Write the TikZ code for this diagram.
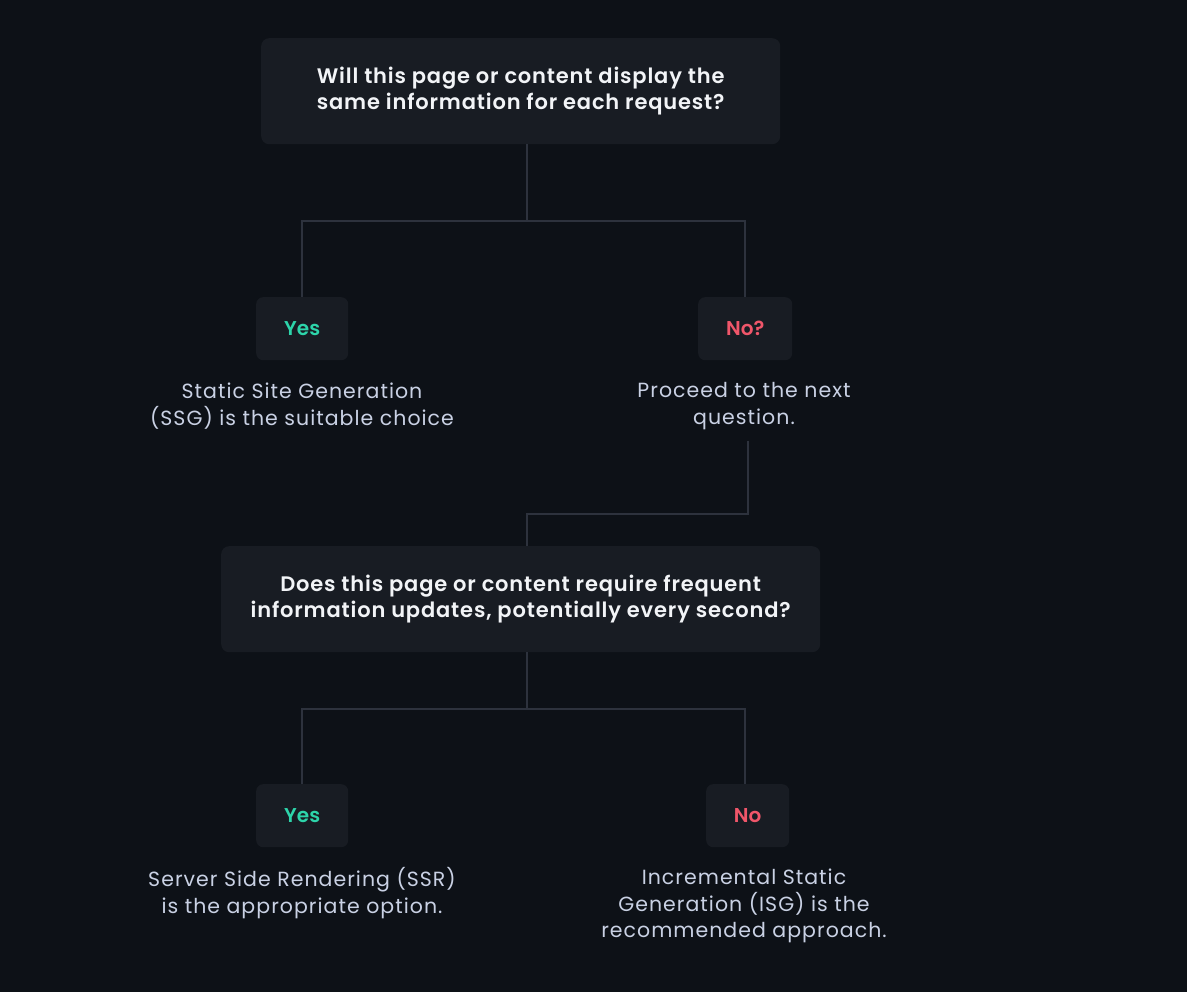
\documentclass[tikz,border=0pt]{standalone}
\usepackage{fontspec}
\setmainfont{Poppins}[BoldFont={Poppins SemiBold}]
\definecolor{bg}{HTML}{0D1117}
\definecolor{boxfill}{HTML}{181C23}
\definecolor{linec}{HTML}{2D323D}
\definecolor{titlec}{HTML}{F2F4F7}
\definecolor{bodyc}{HTML}{C9D1E4}
\definecolor{yesc}{HTML}{2DD4AA}
\definecolor{noc}{HTML}{F0566A}
\tikzset{
  qbox/.style={fill=boxfill, rounded corners=8pt, draw=none, align=center, font=\fontsize{21}{26}\selectfont\bfseries\addfontfeatures{LetterSpace=4}, text=titlec, anchor=north west, inner sep=0pt},
  abox/.style={fill=boxfill, rounded corners=7pt, draw=none, font=\fontsize{20}{26}\selectfont\bfseries, inner sep=0pt, anchor=north west},
  desc/.style={align=center, font=\fontsize{20.5}{26.5}\selectfont\addfontfeatures{LetterSpace=5}, text=bodyc, inner sep=0pt},
  conn/.style={draw=linec, line width=2pt}
}
\begin{document}
\begin{tikzpicture}[x=1pt,y=-1pt]
\fill[bg] (0,0) rectangle (1187,992);
\useasboundingbox (0,0) rectangle (1187,992);
% question 1
\node[qbox, minimum width=519pt, minimum height=106pt] (q1) at (261,38) {Will this page or content display the\\same information for each request?};
\node[abox, minimum width=92pt, minimum height=63pt, text=yesc] (y1) at (256,297) {Yes};
\node[abox, minimum width=94pt, minimum height=63pt, text=noc] (n1) at (698,297) {No?};
\node[desc] (y1t) at (302,406) {Static Site Generation\\(SSG) is the suitable choice};
\node[desc, inner ysep=11pt] (n1t) at (744,406) {Proceed to the next\\question.};
% question 2
\node[qbox, minimum width=599pt, minimum height=106pt] (q2) at (221,546) {Does this page or content require frequent\\information updates, potentially every second?};
\node[abox, minimum width=92pt, minimum height=63pt, text=yesc] (y2) at (256,784) {Yes};
\node[abox, minimum width=83pt, minimum height=63pt, text=noc] (n2) at (706,784) {No};
\node[desc] (y2t) at (302,893) {Server Side Rendering (SSR)\\is the appropriate option.};
\node[desc] (n2t) at (744,906) {Incremental Static\\Generation (ISG) is the\\recommended approach.};
% connectors
\draw[conn] ([xshift=6.5pt]q1.south) -- ++(0,77) -| (y1.north);
\draw[conn] ([xshift=6.5pt]q1.south) ++(0,77) -| ([xshift=-0.5pt]n1.north);
\draw[conn] ([xshift=4pt]n1t.south) |- ++(0,73) -| ([xshift=6.5pt]q2.north);
\draw[conn] ([xshift=6.5pt]q2.south) -- ++(0,57) -| (y2.north);
\draw[conn] ([xshift=6.5pt]q2.south) ++(0,57) -| ([xshift=-2.5pt]n2.north);
\end{tikzpicture}
\end{document}
